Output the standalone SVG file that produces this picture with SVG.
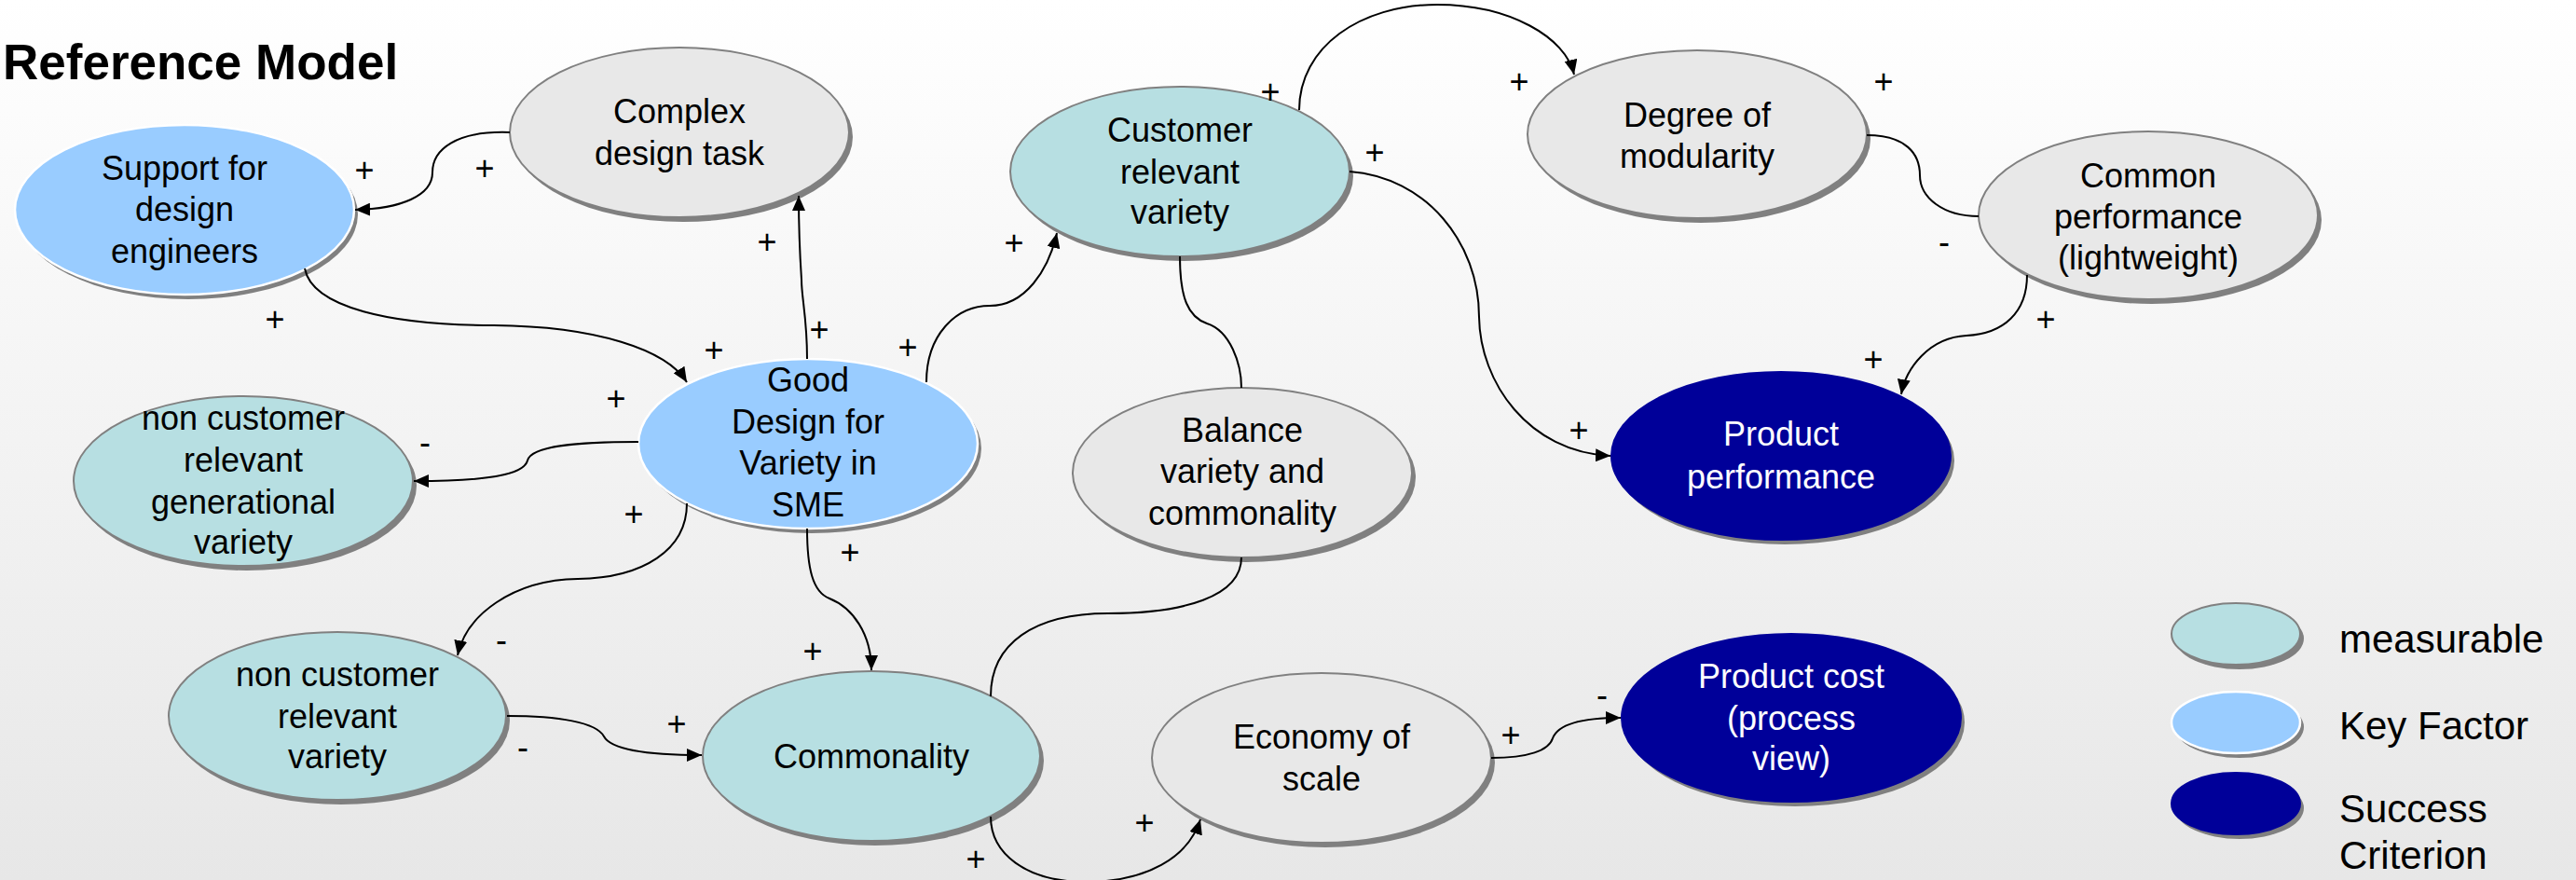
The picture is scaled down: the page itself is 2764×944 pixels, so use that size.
<svg xmlns="http://www.w3.org/2000/svg" width="2764" height="944" viewBox="0 0 2764 944">
<defs>
<linearGradient id="bg" x1="0" y1="0" x2="0" y2="1"><stop offset="0" stop-color="#ffffff"/><stop offset="1" stop-color="#e7e7e7"/></linearGradient>
<marker id="arr" markerWidth="16" markerHeight="14" refX="16" refY="7" orient="auto" markerUnits="userSpaceOnUse"><path d="M0,0 L16,7 L0,14 z" fill="#000"/></marker>
</defs>
<style>
.sh{fill:#808080}
.key{fill:#99CCFF;stroke:#ffffff;stroke-width:2.5}
.mea{fill:#B7DFE2;stroke:#808080;stroke-width:2}
.neu{fill:#E8E8E8;stroke:#808080;stroke-width:2}
.suc{fill:#000099;stroke:#000099;stroke-width:2}
text{font-family:"Liberation Sans",Arial,sans-serif}
.t{font-size:36px;text-anchor:middle;fill:#000}
.w{fill:#ffffff}
.lbl{font-size:36px;text-anchor:middle;fill:#000}
.leg{font-size:42px;fill:#000}
.c{fill:none;stroke:#000;stroke-width:2}
.a{marker-end:url(#arr)}
</style>
<rect x="0" y="0" width="2764" height="944" fill="url(#bg)"/>
<text x="3" y="85" font-size="53" font-weight="bold">Reference Model</text>

<g id="support">
<ellipse class="sh" cx="202" cy="230" rx="182" ry="91"/>
<ellipse class="key" cx="198" cy="225" rx="182" ry="91"/>
<text class="t"><tspan x="198" y="193">Support for</tspan><tspan x="198" y="237">design</tspan><tspan x="198" y="282">engineers</tspan></text>
</g>
<g id="complex">
<ellipse class="sh" cx="733" cy="147" rx="182" ry="91"/>
<ellipse class="neu" cx="729" cy="142" rx="182" ry="91"/>
<text class="t"><tspan x="729" y="132">Complex</tspan><tspan x="729" y="177">design task</tspan></text>
</g>
<g id="customer">
<ellipse class="sh" cx="1270" cy="189" rx="182" ry="91"/>
<ellipse class="mea" cx="1266" cy="184" rx="182" ry="91"/>
<text class="t"><tspan x="1266" y="152">Customer</tspan><tspan x="1266" y="197">relevant</tspan><tspan x="1266" y="240">variety</tspan></text>
</g>
<g id="degree">
<ellipse class="sh" cx="1825" cy="149" rx="182" ry="90"/>
<ellipse class="neu" cx="1821" cy="144" rx="182" ry="90"/>
<text class="t"><tspan x="1821" y="136">Degree of</tspan><tspan x="1821" y="180">modularity</tspan></text>
</g>
<g id="common">
<ellipse class="sh" cx="2309" cy="236" rx="182" ry="90"/>
<ellipse class="neu" cx="2305" cy="231" rx="182" ry="90"/>
<text class="t"><tspan x="2305" y="201">Common</tspan><tspan x="2305" y="245">performance</tspan><tspan x="2305" y="289">(lightweight)</tspan></text>
</g>
<g id="good">
<ellipse class="sh" cx="871" cy="481" rx="182" ry="91"/>
<ellipse class="key" cx="867" cy="476" rx="182" ry="91"/>
<text class="t"><tspan x="867" y="420">Good</tspan><tspan x="867" y="465">Design for</tspan><tspan x="867" y="509">Variety in</tspan><tspan x="867" y="554">SME</tspan></text>
</g>
<g id="generational">
<ellipse class="sh" cx="265" cy="521" rx="182" ry="91"/>
<ellipse class="mea" cx="261" cy="516" rx="182" ry="91"/>
<text class="t"><tspan x="261" y="461">non customer</tspan><tspan x="261" y="506">relevant</tspan><tspan x="261" y="551">generational</tspan><tspan x="261" y="594">variety</tspan></text>
</g>
<g id="balance">
<ellipse class="sh" cx="1337" cy="512" rx="182" ry="91"/>
<ellipse class="neu" cx="1333" cy="507" rx="182" ry="91"/>
<text class="t"><tspan x="1333" y="474">Balance</tspan><tspan x="1333" y="518">variety and</tspan><tspan x="1333" y="563">commonality</tspan></text>
</g>
<g id="prodperf">
<ellipse class="sh" cx="1915" cy="494" rx="182" ry="90"/>
<ellipse class="suc" cx="1911" cy="489" rx="182" ry="90"/>
<text class="t w"><tspan x="1911" y="478">Product</tspan><tspan x="1911" y="524">performance</tspan></text>
</g>
<g id="noncust">
<ellipse class="sh" cx="366" cy="773" rx="181" ry="90"/>
<ellipse class="mea" cx="362" cy="768" rx="181" ry="90"/>
<text class="t"><tspan x="362" y="736">non customer</tspan><tspan x="362" y="781">relevant</tspan><tspan x="362" y="824">variety</tspan></text>
</g>
<g id="commonality">
<ellipse class="sh" cx="939" cy="816" rx="181" ry="91"/>
<ellipse class="mea" cx="935" cy="811" rx="181" ry="91"/>
<text class="t"><tspan x="935" y="824">Commonality</tspan></text>
</g>
<g id="economy">
<ellipse class="sh" cx="1422" cy="818" rx="182" ry="91"/>
<ellipse class="neu" cx="1418" cy="813" rx="182" ry="91"/>
<text class="t"><tspan x="1418" y="803">Economy of</tspan><tspan x="1418" y="848">scale</tspan></text>
</g>
<g id="prodcost">
<ellipse class="sh" cx="1926" cy="775" rx="182" ry="90"/>
<ellipse class="suc" cx="1922" cy="770" rx="182" ry="90"/>
<text class="t w"><tspan x="1922" y="738">Product cost</tspan><tspan x="1922" y="783">(process</tspan><tspan x="1922" y="826">view)</tspan></text>
</g>

<g id="connectors">
<path class="c a" d="M547,142 C490,140 464,160 464,185 C464,210 430,224 381,225"/>
<path class="c a" d="M327,288 C335,330 420,349 530,349 C640,350 715,375 737,410"/>
<path class="c a" d="M866,385 C866,340 860,320 860,300 C858,270 857,240 857,210"/>
<path class="c a" d="M994,410 C994,360 1025,328 1062,328 C1100,328 1125,290 1134,250"/>
<path class="c a" d="M1394,118 C1394,50 1460,5 1542,5 C1620,5 1680,40 1689,80"/>
<path class="c a" d="M1448,184 C1530,190 1587,260 1587,340 C1588,410 1640,485 1728,489"/>
<path class="c" d="M1266,275 C1266,320 1275,340 1295,347 C1320,355 1332,390 1332,416"/>
<path class="c" d="M2003,145 C2045,145 2060,165 2060,188 C2060,212 2085,232 2123,232"/>
<path class="c a" d="M2175,295 C2175,335 2150,358 2110,360 C2070,362 2045,395 2040,423"/>
<path class="c a" d="M685,474 C620,474 570,478 566,494 C562,510 520,516 444,516"/>
<path class="c a" d="M737,540 C737,590 690,620 620,621 C550,622 500,660 491,703"/>
<path class="c a" d="M866,567 C866,610 872,635 890,642 C915,652 935,680 935,719"/>
<path class="c a" d="M544,768 C600,768 640,775 648,790 C656,805 700,810 753,810"/>
<path class="c" d="M1063,747 C1063,690 1110,658 1189,658 C1270,658 1332,640 1332,598"/>
<path class="c a" d="M1063,876 C1063,915 1100,946 1165,946 C1230,946 1275,920 1288,879"/>
<path class="c a" d="M1600,813 C1640,813 1662,805 1666,792 C1672,776 1700,770 1739,770"/>
</g>

<g id="labels">
<text class="lbl" x="391" y="195">+</text>
<text class="lbl" x="520" y="193">+</text>
<text class="lbl" x="295" y="355">+</text>
<text class="lbl" x="823" y="272">+</text>
<text class="lbl" x="879" y="366">+</text>
<text class="lbl" x="766" y="388">+</text>
<text class="lbl" x="974" y="385">+</text>
<text class="lbl" x="1088" y="273">+</text>
<text class="lbl" x="661" y="440">+</text>
<text class="lbl" x="1363" y="111">+</text>
<text class="lbl" x="1630" y="100">+</text>
<text class="lbl" x="2021" y="100">+</text>
<text class="lbl" x="1475" y="176">+</text>
<text class="lbl" x="2086" y="272">-</text>
<text class="lbl" x="2195" y="355">+</text>
<text class="lbl" x="2010" y="398">+</text>
<text class="lbl" x="1694" y="474">+</text>
<text class="lbl" x="456" y="487">-</text>
<text class="lbl" x="680" y="564">+</text>
<text class="lbl" x="912" y="605">+</text>
<text class="lbl" x="872" y="711">+</text>
<text class="lbl" x="726" y="789">+</text>
<text class="lbl" x="538" y="699">-</text>
<text class="lbl" x="561" y="814">-</text>
<text class="lbl" x="1047" y="934">+</text>
<text class="lbl" x="1228" y="895">+</text>
<text class="lbl" x="1621" y="801">+</text>
<text class="lbl" x="1719" y="758">-</text>
</g>

<g id="legend">
<ellipse class="sh" cx="2403" cy="685" rx="69" ry="33"/>
<ellipse class="mea" cx="2399" cy="680" rx="69" ry="33"/>
<ellipse class="sh" cx="2403" cy="780" rx="69" ry="33"/>
<ellipse class="key" cx="2399" cy="775" rx="69" ry="33"/>
<ellipse class="sh" cx="2403" cy="867" rx="69" ry="33"/>
<ellipse class="suc" cx="2399" cy="862" rx="69" ry="33"/>
<text class="leg" x="2510" y="700">measurable</text>
<text class="leg" x="2510" y="793">Key Factor</text>
<text class="leg" x="2510" y="882">Success</text>
<text class="leg" x="2510" y="932">Criterion</text>
</g>
</svg>
